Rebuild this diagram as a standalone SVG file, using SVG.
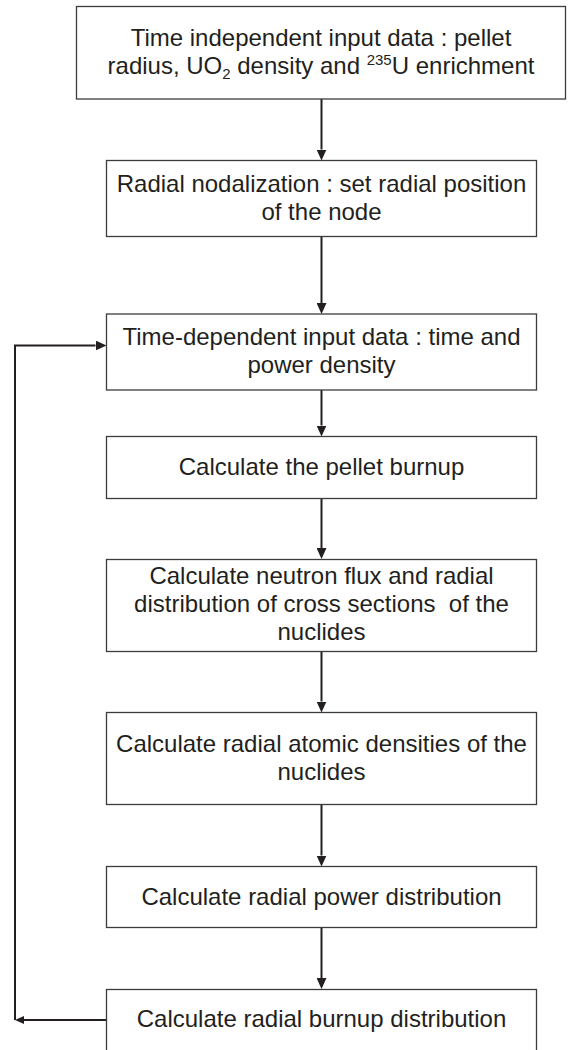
<svg xmlns="http://www.w3.org/2000/svg" width="568" height="1050" viewBox="0 0 568 1050">
<style>
.box{fill:#fff;stroke:#3c3c3c;stroke-width:1.3}
.t{font-family:"Liberation Sans",Arial,sans-serif;font-size:24px;fill:#231f20;text-anchor:middle}
.s{font-size:15px}
.c{fill:none;stroke:#231f20;stroke-width:2}
</style>
<defs>
<marker id="ah" markerUnits="userSpaceOnUse" markerWidth="11" markerHeight="10" refX="0" refY="5" orient="auto" viewBox="0 0 11 10">
<path d="M0,0 L11,5 L0,10 Z" fill="#231f20"/>
</marker>
<marker id="ahs" markerUnits="userSpaceOnUse" markerWidth="9" markerHeight="8" refX="0" refY="4" orient="auto" viewBox="0 0 9 8">
<path d="M0,0 L9,4 L0,8 Z" fill="#231f20"/>
</marker>
</defs>
<rect width="568" height="1050" fill="#fff"/>
<g id="connectors">
<path class="c" d="M321.5,99 V149.5" marker-end="url(#ah)"/>
<path class="c" d="M321.5,237 V303" marker-end="url(#ah)"/>
<path class="c" d="M321.5,390 V425.5" marker-end="url(#ah)"/>
<path class="c" d="M321.5,498.5 V548" marker-end="url(#ah)"/>
<path class="c" d="M321.5,652 V701.5" marker-end="url(#ah)"/>
<path class="c" d="M321.5,804.5 V855.5" marker-end="url(#ah)"/>
<path class="c" d="M321.5,927.5 V978" marker-end="url(#ah)"/>
<path class="c" d="M110,1020 H24" marker-end="url(#ahs)"/>
<path class="c" d="M15,1020 V345.5 H95.5" marker-end="url(#ah)"/>
</g>
<g id="n1">
<rect class="box" x="76.5" y="6.5" width="489" height="92.5"/>
<text class="t" x="321" y="46">Time independent input data : pellet</text>
<text class="t" x="321" y="74">radius, UO<tspan class="s" dy="5">2</tspan><tspan dy="-5"> density and </tspan><tspan class="s" dy="-9">235</tspan><tspan dy="9">U enrichment</tspan></text>
</g>
<g id="n2">
<rect class="box" x="106.5" y="160.5" width="430" height="76"/>
<text class="t" x="321.5" y="192">Radial nodalization : set radial position</text>
<text class="t" x="321.5" y="220">of the node</text>
</g>
<g id="n3">
<rect class="box" x="106.5" y="314" width="430" height="76"/>
<text class="t" x="321.5" y="345">Time-dependent input data : time and</text>
<text class="t" x="321.5" y="373">power density</text>
</g>
<g id="n4">
<rect class="box" x="106.5" y="436.5" width="430" height="62"/>
<text class="t" x="321.5" y="475">Calculate the pellet burnup</text>
</g>
<g id="n5">
<rect class="box" x="106.5" y="559.5" width="430" height="92"/>
<text class="t" x="321.5" y="584">Calculate neutron flux and radial</text>
<text class="t" x="321.5" y="612" xml:space="preserve">distribution of cross sections  of the</text>
<text class="t" x="321.5" y="640">nuclides</text>
</g>
<g id="n6">
<rect class="box" x="106.5" y="712.5" width="430" height="92"/>
<text class="t" x="321.5" y="751.5">Calculate radial atomic densities of the</text>
<text class="t" x="321.5" y="779.5">nuclides</text>
</g>
<g id="n7">
<rect class="box" x="106.5" y="866.5" width="430" height="61"/>
<text class="t" x="321.5" y="905">Calculate radial power distribution</text>
</g>
<g id="n8">
<rect class="box" x="106.5" y="989.5" width="430" height="62"/>
<text class="t" x="321.5" y="1027">Calculate radial burnup distribution</text>
</g>
</svg>
